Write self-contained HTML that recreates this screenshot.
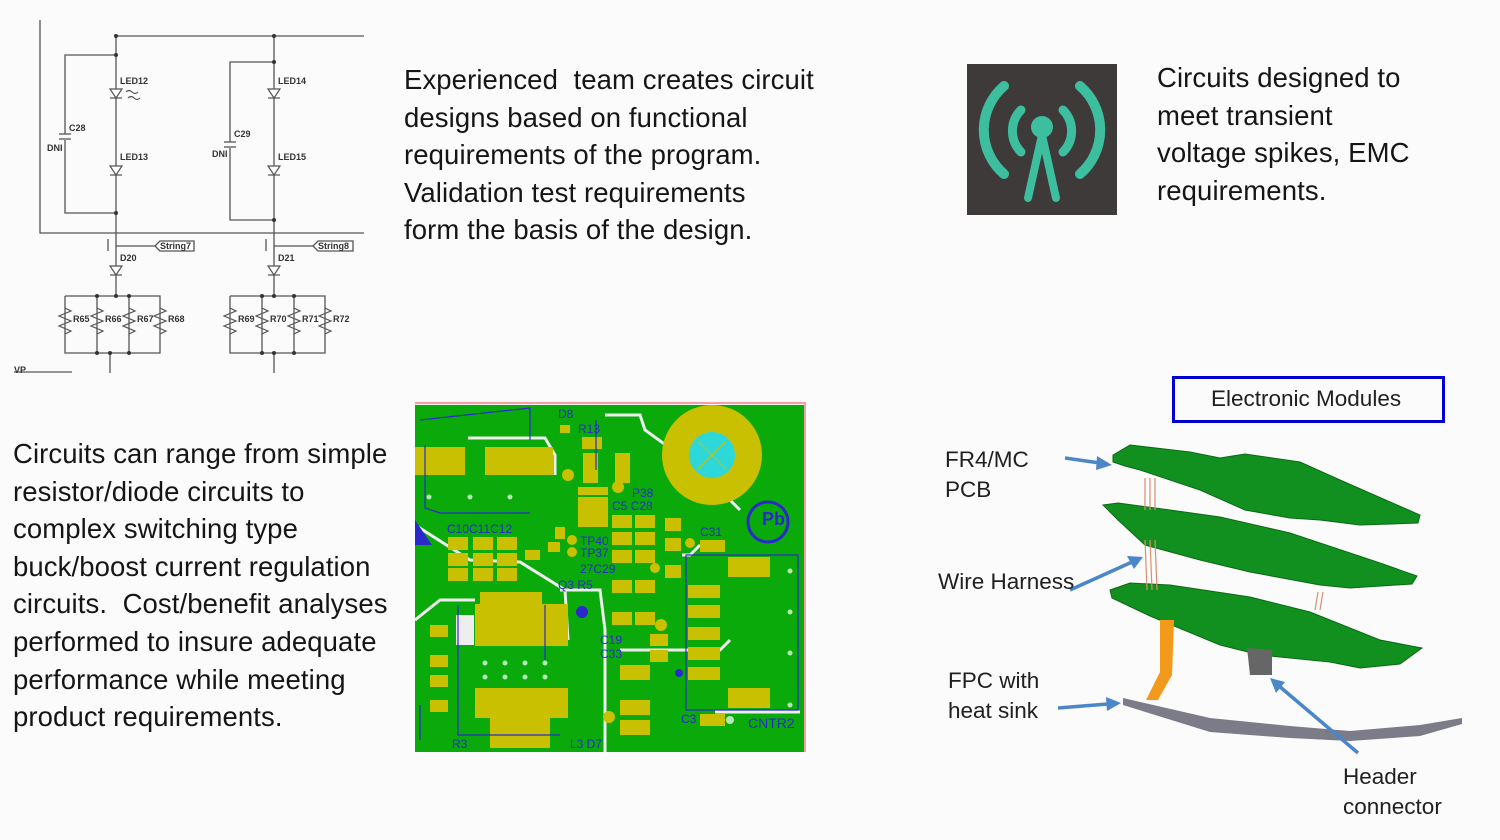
<!DOCTYPE html>
<html><head><meta charset="utf-8"><style>
html,body{margin:0;padding:0;background:#fbfbfb;}
body{width:1500px;height:840px;position:relative;overflow:hidden;font-family:"Liberation Sans",sans-serif;}
.t{position:absolute;color:#151515;font-size:27.5px;line-height:37.6px;white-space:nowrap;letter-spacing:0.1px;}
.l{position:absolute;color:#202020;font-size:22.5px;line-height:30px;white-space:nowrap;}
svg{position:absolute;left:0;top:0;}
</style></head><body>
<svg width="1500" height="840" viewBox="0 0 1500 840">
<!-- schematic -->
<g stroke="#555" stroke-width="1.3" fill="none">
<polyline points="40,20 40,233 364,233"/>
<line x1="115" y1="36" x2="364" y2="36"/>
<line x1="116" y1="36" x2="116" y2="296"/>
<line x1="274" y1="36" x2="274" y2="296"/>
<polyline points="116,55 65,55 65,134"/><polyline points="65,140 65,213 116,213"/>
<line x1="59" y1="134" x2="71" y2="134"/><line x1="59" y1="139" x2="71" y2="139"/>
<polyline points="274,62 230,62 230,142"/><polyline points="230,148 230,220 274,220"/>
<line x1="224" y1="142" x2="236" y2="142"/><line x1="224" y1="147" x2="236" y2="147"/>
<polyline points="65,296 160,296 160,353 65,353 65,296"/>
<polyline points="230,296 325,296 325,353 230,353 230,296"/>
<line x1="97" y1="296" x2="97" y2="353"/><line x1="129" y1="296" x2="129" y2="353"/>
<line x1="262" y1="296" x2="262" y2="353"/><line x1="294" y1="296" x2="294" y2="353"/>
<line x1="110" y1="353" x2="110" y2="373"/><line x1="274" y1="353" x2="274" y2="373"/>
<line x1="14" y1="372" x2="72" y2="372"/>
<line x1="116" y1="246" x2="155" y2="246"/><line x1="274" y1="246" x2="313" y2="246"/>
<line x1="108" y1="239" x2="108" y2="251"/><line x1="266" y1="239" x2="266" y2="251"/>
<polygon points="155,246 160,241 194,241 194,251 160,251" fill="#fff"/>
<polygon points="313,246 318,241 353,241 353,251 318,251" fill="#fff"/>
</g>
<g fill="#fff" stroke="#555" stroke-width="1.2">
<polygon points="110,89 122,89 116,98"/><polygon points="110,166 122,166 116,175"/>
<polygon points="268,89 280,89 274,98"/><polygon points="268,166 280,166 274,175"/>
<polygon points="110,266 122,266 116,275"/><polygon points="268,266 280,266 274,275"/>
</g>
<g stroke="#555" stroke-width="1.2" fill="none">
<line x1="110" y1="98" x2="122" y2="98"/><line x1="110" y1="175" x2="122" y2="175"/>
<line x1="268" y1="98" x2="280" y2="98"/><line x1="268" y1="175" x2="280" y2="175"/>
<line x1="110" y1="275" x2="122" y2="275"/><line x1="268" y1="275" x2="280" y2="275"/>
<path d="M126,92 q3,-3 6,0 t6,0 M128,98 q3,-3 6,0 t6,0"/>
<path d="M65,308 l6,3 -12,5 12,5 -12,5 12,5 -6,3 M97,308 l6,3 -12,5 12,5 -12,5 12,5 -6,3 M129,308 l6,3 -12,5 12,5 -12,5 12,5 -6,3 M160,308 l6,3 -12,5 12,5 -12,5 12,5 -6,3"/>
<path d="M230,308 l6,3 -12,5 12,5 -12,5 12,5 -6,3 M262,308 l6,3 -12,5 12,5 -12,5 12,5 -6,3 M294,308 l6,3 -12,5 12,5 -12,5 12,5 -6,3 M325,308 l6,3 -12,5 12,5 -12,5 12,5 -6,3"/>
</g>
<g fill="#333"><circle cx="116" cy="36" r="2"/><circle cx="274" cy="36" r="2"/><circle cx="116" cy="55" r="2"/><circle cx="274" cy="62" r="2"/><circle cx="116" cy="213" r="2"/><circle cx="274" cy="220" r="2"/>
<circle cx="97" cy="296" r="2"/><circle cx="116" cy="296" r="2"/><circle cx="129" cy="296" r="2"/><circle cx="97" cy="353" r="2"/><circle cx="110" cy="353" r="2"/><circle cx="129" cy="353" r="2"/>
<circle cx="262" cy="296" r="2"/><circle cx="274" cy="296" r="2"/><circle cx="294" cy="296" r="2"/><circle cx="262" cy="353" r="2"/><circle cx="274" cy="353" r="2"/><circle cx="294" cy="353" r="2"/></g>
<g font-family="Liberation Sans" font-size="9" font-weight="bold" fill="#333">
<text x="120" y="84">LED12</text><text x="120" y="160">LED13</text><text x="278" y="84">LED14</text><text x="278" y="160">LED15</text>
<text x="69" y="131">C28</text><text x="47" y="151">DNI</text><text x="234" y="137">C29</text><text x="212" y="157">DNI</text>
<text x="160" y="249">String7</text><text x="318" y="249">String8</text><text x="120" y="261">D20</text><text x="278" y="261">D21</text>
<text x="73" y="322">R65</text><text x="105" y="322">R66</text><text x="137" y="322">R67</text><text x="168" y="322">R68</text>
<text x="238" y="322">R69</text><text x="270" y="322">R70</text><text x="302" y="322">R71</text><text x="333" y="322">R72</text>
<text x="14" y="373">VP</text></g>

<!-- icon -->
<rect x="967" y="64" width="150" height="151" fill="#3d3a39"/>
<g stroke="#3dbf9f" fill="none" stroke-linecap="round">
<path d="M1004,86 A58,58 0 0 0 1004,174" stroke-width="10"/>
<path d="M1080,86 A58,58 0 0 1 1080,174" stroke-width="10"/>
<path d="M1021,110 A30,30 0 0 0 1021,152" stroke-width="9"/>
<path d="M1063,110 A30,30 0 0 1 1063,152" stroke-width="9"/>
<path d="M1042,135 L1028,198 M1042,135 L1056,198" stroke-width="8"/>
</g>
<circle cx="1042" cy="127" r="11" fill="#3dbf9f"/>

<!-- PCB -->
<rect x="415" y="402" width="391" height="350" fill="#f2f2f2"/>
<line x1="415" y1="403" x2="806" y2="403" stroke="#f4a0a0" stroke-width="2"/>
<line x1="805" y1="403" x2="805" y2="752" stroke="#f4a0a0" stroke-width="2"/>
<rect x="415" y="405" width="389" height="347" fill="#0aaa0a"/>
<g stroke="#eee" stroke-width="3" fill="none">
<polyline points="415,525 470,560 520,562 565,590 568,640"/>
<polyline points="468,438 545,438 555,455 555,475"/>
<polyline points="605,415 640,415 645,430 700,470 740,510"/>
<polyline points="560,590 600,590 605,630 605,752"/>
<polyline points="620,650 720,650 730,640"/>
<polyline points="682,555 690,555 700,545"/>
<polyline points="715,712 800,712"/>
<polyline points="415,620 440,600 475,600"/>
<rect x="456" y="615" width="18" height="30" fill="#eee" stroke="none"/>
</g>
<g fill="#c8c000">
<rect x="415" y="447" width="50" height="28"/><rect x="485" y="447" width="68" height="28"/>
<rect x="480" y="592" width="62" height="12"/><rect x="475" y="604" width="93" height="42"/>
<rect x="475" y="688" width="93" height="30"/><rect x="490" y="718" width="60" height="30"/>
<rect x="448" y="537" width="20" height="13"/><rect x="473" y="537" width="20" height="13"/><rect x="497" y="537" width="20" height="13"/>
<rect x="448" y="553" width="20" height="13"/><rect x="473" y="553" width="20" height="13"/><rect x="497" y="553" width="20" height="13"/>
<rect x="448" y="568" width="20" height="13"/><rect x="473" y="568" width="20" height="13"/><rect x="497" y="568" width="20" height="13"/>
<rect x="688" y="585" width="32" height="13"/><rect x="688" y="605" width="32" height="13"/><rect x="688" y="627" width="32" height="13"/><rect x="688" y="647" width="32" height="13"/><rect x="688" y="667" width="32" height="13"/>
<rect x="728" y="557" width="42" height="20"/><rect x="728" y="688" width="42" height="20"/>
<rect x="612" y="515" width="20" height="13"/><rect x="635" y="515" width="20" height="13"/><rect x="612" y="532" width="20" height="13"/><rect x="635" y="532" width="20" height="13"/>
<rect x="612" y="550" width="20" height="13"/><rect x="635" y="550" width="20" height="13"/>
<rect x="612" y="580" width="20" height="13"/><rect x="635" y="580" width="20" height="13"/><rect x="612" y="612" width="20" height="13"/><rect x="635" y="612" width="20" height="13"/>
<rect x="665" y="518" width="16" height="13"/><rect x="665" y="538" width="16" height="13"/><rect x="665" y="565" width="16" height="13"/>
<rect x="583" y="453" width="15" height="30"/><rect x="615" y="453" width="15" height="30"/>
<rect x="578" y="497" width="30" height="30"/><rect x="578" y="487" width="30" height="8"/>
<rect x="620" y="665" width="30" height="15"/><rect x="620" y="700" width="30" height="15"/><rect x="620" y="720" width="30" height="15"/>
<rect x="430" y="625" width="18" height="12"/><rect x="430" y="655" width="18" height="12"/><rect x="430" y="675" width="18" height="12"/><rect x="430" y="700" width="18" height="12"/>
<rect x="560" y="425" width="10" height="8"/><rect x="582" y="437" width="20" height="12"/>
<rect x="555" y="527" width="10" height="12"/><rect x="525" y="550" width="15" height="10"/><rect x="548" y="542" width="12" height="10"/>
<rect x="650" y="634" width="18" height="12"/><rect x="650" y="650" width="18" height="12"/><rect x="700" y="540" width="25" height="12"/><rect x="700" y="714" width="25" height="12"/>
<circle cx="712" cy="455" r="50"/>
<circle cx="568" cy="475" r="6"/><circle cx="618" cy="487" r="6"/><circle cx="572" cy="540" r="5"/><circle cx="572" cy="552" r="5"/><circle cx="655" cy="568" r="5"/><circle cx="690" cy="543" r="5"/><circle cx="661" cy="625" r="6"/><circle cx="661" cy="640" r="6"/><circle cx="609" cy="717" r="6"/>
</g>
<circle cx="712" cy="455" r="23" fill="#2ed8d8"/>
<path d="M698,441 L726,469 M726,441 L698,469" stroke="#c8c000" stroke-width="1"/>
<g fill="#b6e8b6"><circle cx="429" cy="497" r="2.5"/><circle cx="470" cy="497" r="2.5"/><circle cx="510" cy="497" r="2.5"/><circle cx="485" cy="663" r="2.5"/><circle cx="505" cy="663" r="2.5"/><circle cx="525" cy="663" r="2.5"/><circle cx="545" cy="663" r="2.5"/><circle cx="485" cy="677" r="2.5"/><circle cx="505" cy="677" r="2.5"/><circle cx="525" cy="677" r="2.5"/><circle cx="545" cy="677" r="2.5"/><circle cx="790" cy="571" r="2.5"/><circle cx="790" cy="612" r="2.5"/><circle cx="790" cy="653" r="2.5"/><circle cx="790" cy="705" r="2.5"/><circle cx="730" cy="720" r="4"/></g>
<g stroke="#2a2acc" stroke-width="1.2" fill="none">
<polyline points="420,420 530,408 530,440"/><polyline points="425,445 425,508 440,513 530,513"/>
<rect x="686" y="555" width="112" height="155"/><circle cx="768" cy="522" r="20" stroke-width="3"/>
<line x1="596" y1="420" x2="596" y2="470"/><line x1="420" y1="705" x2="420" y2="740"/>
<polyline points="458,605 458,735 560,735"/><polyline points="545,605 545,660"/>
</g>
<polygon points="415,520 432,545 415,545" fill="#2a2acc"/>
<circle cx="582" cy="612" r="6" fill="#2a2acc"/><circle cx="679" cy="673" r="4" fill="#2a2acc"/>
<g font-family="Liberation Sans" font-size="12" fill="#2a2acc">
<text x="558" y="418">D8</text><text x="578" y="433">R13</text><text x="632" y="497">P38</text><text x="612" y="510">C5 C28</text><text x="447" y="533">C10C11C12</text>
<text x="580" y="545">TP40</text><text x="580" y="557">TP37</text><text x="580" y="573">27C29</text><text x="558" y="589">Q3 R5</text>
<text x="700" y="536">C31</text><text x="600" y="644">C19</text><text x="600" y="658">C33</text><text x="681" y="723">C3</text>
<text x="748" y="728" font-size="14">CNTR2</text><text x="452" y="748">R3</text><text x="570" y="748">L3 D7</text>
<text x="762" y="525" font-size="18" font-weight="bold">Pb</text></g>

<!-- modules -->
<g fill="#11901f" stroke="#0a6a14" stroke-width="1">
<polygon points="1113,455 1130,445 1190,452 1220,458 1245,454 1300,462 1340,480 1420,515 1418,523 1360,525 1320,520 1290,518 1245,510 1200,490 1140,470 1125,466 1113,462"/>
<polygon points="1103,505 1118,503 1170,510 1220,517 1290,533 1380,563 1417,576 1412,584 1350,588 1320,585 1250,572 1200,560 1145,545 1118,520"/>
<polygon points="1110,590 1130,583 1170,585 1250,597 1310,612 1380,640 1422,648 1400,664 1360,668 1330,662 1260,655 1220,645 1150,616 1112,598"/>
</g>
<g stroke="#d89070" stroke-width="1.2"><line x1="1145" y1="478" x2="1145" y2="510"/><line x1="1150" y1="478" x2="1150" y2="510"/><line x1="1155" y1="478" x2="1155" y2="510"/>
<line x1="1145" y1="540" x2="1147" y2="590"/><line x1="1150" y1="540" x2="1152" y2="590"/><line x1="1155" y1="540" x2="1157" y2="590"/>
<line x1="1318" y1="592" x2="1315" y2="610"/><line x1="1323" y1="592" x2="1320" y2="610"/></g>
<polygon points="1160,620 1174,620 1172,675 1158,700 1146,700 1160,672" fill="#f39a1c"/>
<polygon points="1247,648 1272,650 1272,675 1250,675" fill="#666"/>
<polygon points="1123,698 1210,718 1290,726 1350,731 1420,725 1462,718 1462,724 1420,736 1350,741 1290,738 1210,732 1123,705" fill="#7c7c88"/>
<g stroke="#4a86c8" stroke-width="3.5" fill="#4a86c8">
<line x1="1065" y1="458" x2="1100" y2="463"/><polygon points="1112,465 1097,456 1096,470" stroke="none"/>
<line x1="1070" y1="590" x2="1132" y2="562"/><polygon points="1143,557 1127,556 1134,569" stroke="none"/>
<line x1="1058" y1="708" x2="1108" y2="704"/><polygon points="1121,703 1106,697 1107,711" stroke="none"/>
<line x1="1358" y1="753" x2="1279" y2="686"/><polygon points="1270,678 1276,693 1285,682" stroke="none"/>
</g>
<rect x="1173.5" y="377.5" width="270" height="44" fill="none" stroke="#0000d0" stroke-width="3"/>
</svg>

<div class="t" style="left:404px;top:61px;">Experienced&nbsp; team creates circuit<br>designs based on functional<br>requirements of the program.<br>Validation test requirements<br>form the basis of the design.</div>
<div class="t" style="left:1157px;top:59px;">Circuits designed to<br>meet transient<br>voltage spikes, EMC<br>requirements.</div>
<div class="t" style="left:13px;top:435px;">Circuits can range from simple<br>resistor/diode circuits to<br>complex switching type<br>buck/boost current regulation<br>circuits.&nbsp; Cost/benefit analyses<br>performed to insure adequate<br>performance while meeting<br>product requirements.</div>
<div class="l" style="left:1211px;top:384px;">Electronic Modules</div>
<div class="l" style="left:945px;top:445px;">FR4/MC<br>PCB</div>
<div class="l" style="left:938px;top:567px;">Wire Harness</div>
<div class="l" style="left:948px;top:666px;">FPC with<br>heat sink</div>
<div class="l" style="left:1343px;top:762px;">Header<br>connector</div>
</body></html>
